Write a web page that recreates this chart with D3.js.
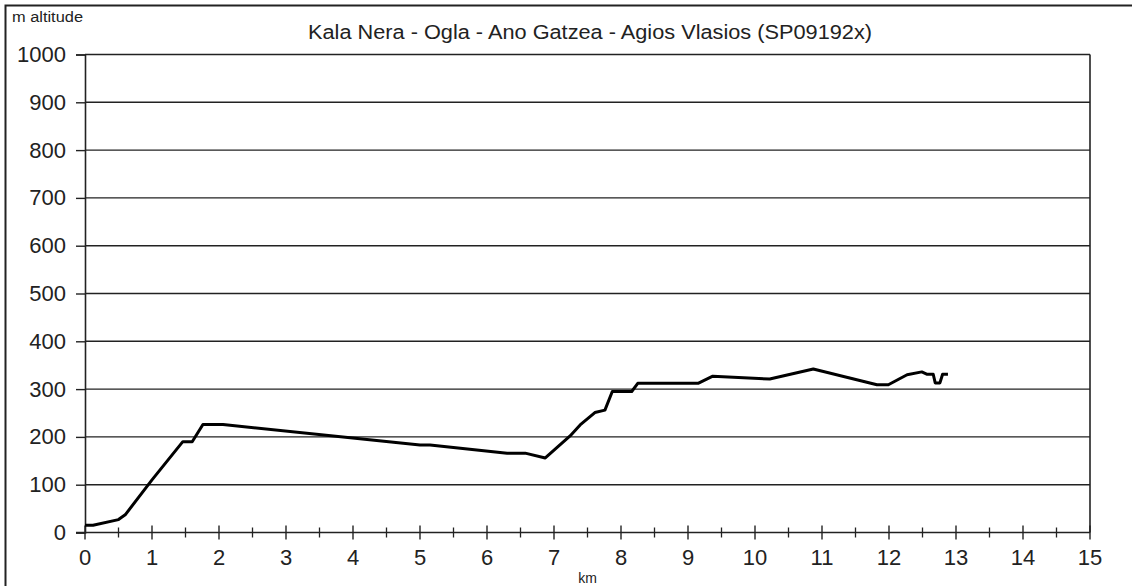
<!DOCTYPE html>
<html>
<head>
<meta charset="utf-8">
<script src="https://cdn.jsdelivr.net/npm/d3@7/dist/d3.min.js"></script>
<style>
  body { margin: 0; background: #fff; }
  svg text { font-family: "Liberation Sans", Arial, sans-serif; fill: #222; }
</style>
</head>
<body>
<div id="chart"></div>
<script>
// elevation profile
const distKm = [0, 0.12, 0.5, 0.6, 1.0, 1.46, 1.6, 1.76, 2.06, 5.0, 5.15, 6.3, 6.57, 6.87,
  7.24, 7.39, 7.61, 7.76, 7.87, 8.16, 8.25, 9.15, 9.37, 10.22, 10.87, 11.82, 11.99,
  12.27, 12.49, 12.57, 12.66, 12.69, 12.76, 12.8, 12.88];
const altM = [15, 15, 27, 37, 110, 190, 190, 226, 226, 183, 183, 166, 166, 156,
  202, 225, 251, 256, 295, 295, 312, 312, 327, 321, 342, 309, 309,
  330, 336, 331, 331, 313, 313, 331, 331];
const xTicks = d3.range(0, 16);
const xMinor = d3.range(0.5, 15, 1);
const yTicks = d3.range(0, 1001, 100);

const title = "Kala Nera - Ogla - Ano Gatzea - Agios Vlasios (SP09192x)";

const W = 1132, H = 586;
const margin = { left: 85, right: 42, top: 54.5, bottom: 53.5 };

const svg = d3.select("#chart").append("svg")
  .attr("width", W).attr("height", H);

// outer frame (only top + left visible)
svg.append("path")
  .attr("d", `M5.5,${H + 5}V5.5H${W + 5}`)
  .attr("fill", "none").attr("stroke", "#222").attr("stroke-width", 2);

const x = d3.scaleLinear().domain([0, 15]).range([margin.left, W - margin.right]);
const y = d3.scaleLinear().domain([0, 1000]).range([H - margin.bottom, margin.top]);

// gridlines
svg.append("g").selectAll("line")
  .data(yTicks.filter(d => d > 0))
  .enter().append("line")
  .attr("x1", x(0)).attr("x2", x(15))
  .attr("y1", d => y(d)).attr("y2", d => y(d))
  .attr("stroke", "#222").attr("stroke-width", 1.4);

// right border of plot
svg.append("line")
  .attr("x1", x(15)).attr("x2", x(15))
  .attr("y1", y(1000)).attr("y2", y(0))
  .attr("stroke", "#222").attr("stroke-width", 1.6);

// y axis
const yAxis = svg.append("g")
  .attr("transform", `translate(${x(0)},0)`)
  .call(d3.axisLeft(y).tickValues(yTicks).tickFormat(d3.format("d")).tickSize(9).tickPadding(10));
yAxis.select(".domain").attr("stroke", "#222").attr("stroke-width", 1.6);
yAxis.selectAll(".tick line").attr("stroke", "#222").attr("stroke-width", 1.4);
yAxis.selectAll(".tick text").attr("font-size", 22).attr("fill", "#222");

// x axis: ticks crossing the axis
const xAxis = svg.append("g")
  .attr("transform", `translate(0,${y(0)})`);
xAxis.append("line")
  .attr("x1", x(0) - 9).attr("x2", x(15))
  .attr("stroke", "#222").attr("stroke-width", 1.6);
xAxis.selectAll(".major").data(xTicks).enter().append("line")
  .attr("x1", d => x(d)).attr("x2", d => x(d))
  .attr("y1", -7).attr("y2", 7)
  .attr("stroke", "#222").attr("stroke-width", 1.4);
xAxis.selectAll(".minor").data(xMinor).enter().append("line")
  .attr("x1", d => x(d)).attr("x2", d => x(d))
  .attr("y1", -5).attr("y2", 5)
  .attr("stroke", "#222").attr("stroke-width", 1.3);
xAxis.selectAll("text").data(xTicks).enter().append("text")
  .attr("x", d => x(d)).attr("y", 32)
  .attr("text-anchor", "middle")
  .attr("font-size", 22)
  .text(d => d);

// profile line
const line = d3.line().x((d, i) => x(distKm[i])).y(d => y(d));
svg.append("path")
  .datum(altM)
  .attr("d", line)
  .attr("fill", "none")
  .attr("stroke", "#000")
  .attr("stroke-width", 3)
  .attr("stroke-linejoin", "round");

// labels
svg.append("text").attr("x", 308).attr("y", 39)
  .attr("font-size", 20)
  .attr("textLength", 564).attr("lengthAdjust", "spacingAndGlyphs")
  .text(title);
svg.append("text").attr("x", 12).attr("y", 22)
  .attr("font-size", 14)
  .attr("textLength", 71).attr("lengthAdjust", "spacingAndGlyphs")
  .text("m altitude");
svg.append("text").attr("x", x(7.5)).attr("y", 583)
  .attr("text-anchor", "middle").attr("font-size", 14).text("km");
</script>
</body>
</html>
